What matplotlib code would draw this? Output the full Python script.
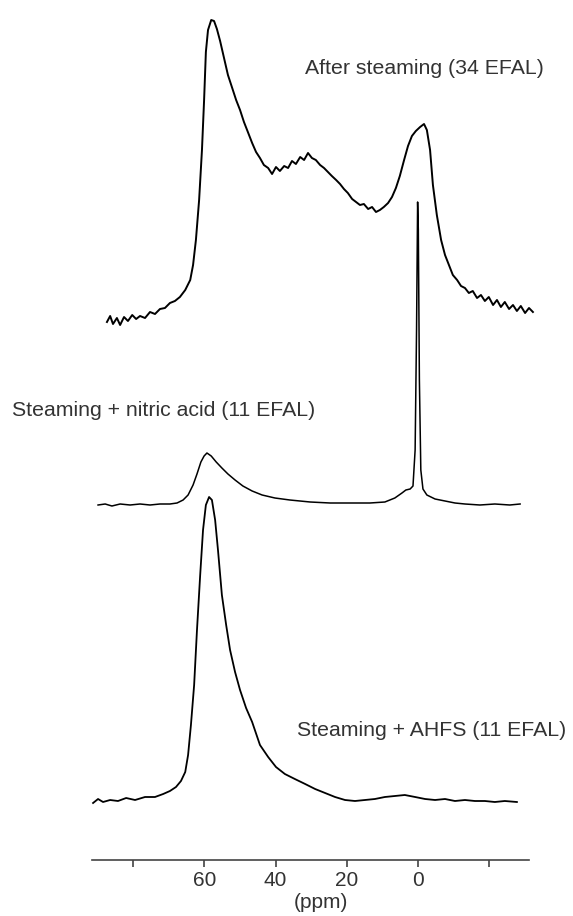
import numpy as np
import matplotlib.pyplot as plt

plt.rcParams['font.family'] = ['Liberation Sans', 'DejaVu Sans']

# Spettro dopo steaming (34 EFAL)
ppm_steam = [87.4, 86.5, 85.7, 84.6, 83.7, 82.6, 81.5, 80.3, 79.2, 78.1, 76.7, 75.3, 73.9, 72.5,
             71.1, 69.7, 68.3, 66.9, 65.4, 64.0, 63.2, 62.4, 61.5, 60.7, 60.1, 59.6, 59.0, 58.1,
             57.3, 56.5, 55.6, 54.5, 53.4, 52.2, 51.1, 50.0, 48.9, 47.8, 46.6, 45.5, 44.4, 43.3,
             42.1, 41.0, 39.9, 38.8, 37.6, 36.5, 35.4, 34.3, 33.1, 32.0, 30.9, 29.8, 28.7, 27.5,
             26.4, 25.3, 24.2, 23.0, 21.9, 20.8, 19.7, 18.5, 17.4, 16.3, 15.2, 14.0, 12.9, 11.8,
             10.7, 9.6, 8.4, 7.3, 6.2, 5.1, 3.9, 2.8, 1.7, 0.6, -0.6, -1.7, -2.5, -3.4, -4.2,
             -5.3, -6.5, -7.6, -8.7, -9.8, -11.0, -12.1, -13.2, -14.3, -15.4, -16.6, -17.7,
             -18.8, -19.9, -21.1, -22.2, -23.3, -24.4, -25.6, -26.7, -27.8, -28.9, -30.1,
             -31.2, -32.3]
int_steam = [-2, 4, -4, 2, -5, 3, -1, 5, 1, 4, 2, 8, 6, 11,
             12, 17, 19, 23, 30, 40, 55, 80, 120, 170, 220, 268, 290, 300,
             299, 291, 279, 262, 245, 232, 220, 210, 198, 188, 177, 168, 162, 155,
             152, 146, 153, 149, 154, 152, 159, 156, 163, 160, 167, 162, 160, 155,
             152, 148, 144, 140, 136, 131, 127, 121, 118, 115, 116, 111, 113, 108,
             110, 113, 117, 123, 132, 144, 160, 174, 184, 189, 193, 196, 190, 170, 135,
             105, 80, 65, 55, 45, 40, 34, 32, 27, 29, 22, 25,
             19, 23, 15, 20, 13, 18, 11, 15, 9, 14, 7,
             12, 8]

# Steaming + acido nitrico (11 EFAL)
ppm_nitric = [89.9, 87.9, 86.0, 83.7, 80.9, 78.1, 75.3, 72.5, 69.7, 67.7, 66.0, 64.6, 63.2, 62.1,
              61.0, 60.1, 59.3, 58.1, 56.7, 55.1, 53.4, 51.4, 49.2, 46.6, 43.8, 40.2, 36.0,
              30.3, 24.7, 19.1, 13.5, 9.3, 6.5, 4.5, 3.4, 2.2, 1.4, 0.8, 0.4, 0.1, -0.1, -0.4,
              -0.8, -1.4, -2.5, -4.8, -7.6, -10.4, -13.2, -17.4, -21.6, -25.8, -28.7]
int_nitric = [0, 1, -1, 1, 0, 1, 0, 1, 1, 2, 5, 10, 20, 31,
              43, 49, 52, 49, 43, 37, 31, 25, 19, 14, 10, 7, 5,
              3, 2, 2, 2, 3, 7, 12, 15, 16, 19, 55, 175, 303, 275, 125,
              35, 16, 10, 6, 4, 2, 1, 0, 1, 0, 1]

# Steaming + AHFS (11 EFAL)
ppm_ahfs = [91.3, 89.9, 88.5, 86.5, 84.3, 82.0, 79.5, 76.7, 73.9, 71.6, 69.7, 68.0, 66.6, 65.4,
            64.6, 63.8, 62.9, 62.1, 61.2, 60.4, 59.6, 58.7, 57.9, 57.0, 56.2, 55.1, 53.9,
            52.8, 51.4, 50.0, 48.3, 46.6, 44.4, 42.1, 39.9, 37.4, 34.6, 31.7, 28.9, 26.1,
            23.3, 20.5, 17.7, 14.9, 12.1, 9.3, 6.5, 3.7, 0.8, -2.0, -4.8, -7.6, -10.4,
            -13.2, -16.0, -18.8, -21.6, -24.4, -27.8]
int_ahfs = [-1, 3, 0, 2, 1, 4, 2, 5, 5, 8, 11, 15, 21, 30,
            47, 77, 117, 172, 227, 272, 297, 305, 302, 282, 252, 207, 177,
            152, 130, 112, 94, 80, 57, 45, 35, 28, 23, 18, 13, 9,
            5, 2, 1, 2, 3, 5, 6, 7, 5, 3, 2, 3, 1,
            2, 1, 1, 0, 1, 0]

spectra = [(ppm_steam, int_steam, 540, 1.4),
           (ppm_nitric, int_nitric, 355, 1.1),
           (ppm_ahfs, int_ahfs, 58, 1.3)]

fig = plt.figure(figsize=(5.73, 9.16), dpi=100)
ax = fig.add_axes([92 / 573, 1 - 860 / 916, (529 - 92) / 573, 860 / 916])

for x, y, off, lw in spectra:
    ax.plot(x, np.array(y) + off, color='black', lw=lw, clip_on=False)

ax.set_xlim(91.6, -31.2)
ax.set_ylim(0, 860)
for s in ['top', 'left', 'right']:
    ax.spines[s].set_visible(False)
ax.spines['bottom'].set_color('#444444')
ax.spines['bottom'].set_linewidth(1.2)
ax.set_yticks([])
ax.set_xticks([80, 60, 40, 20, 0, -20])
ax.set_xticklabels(['', '60', '40', '20', '0', ''])
ax.tick_params(axis='x', direction='out', length=5, width=1.1, pad=3,
               labelsize=15, colors='#333333')

txt = dict(fontsize=15.3, color='#333333', va='center', ha='left')
fig.text(305 / 573, 1 - 68 / 916, 'After steaming (34 EFAL)', **txt)
fig.text(12 / 573, 1 - 410 / 916, 'Steaming + nitric acid (11 EFAL)', **txt)
fig.text(297 / 573, 1 - 730 / 916, 'Steaming + AHFS (11 EFAL)', **txt)
fig.text(321 / 573, 1 - 903 / 916, '(ppm)', fontsize=15, color='#333333', ha='center', va='center')

plt.savefig('out.png', dpi=100)
